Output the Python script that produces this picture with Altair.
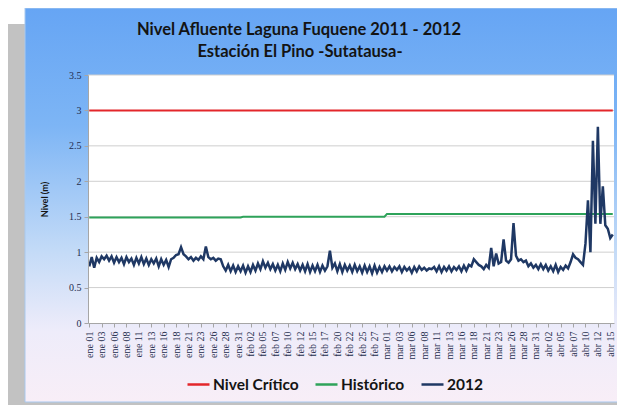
import json
import altair as alt
import pandas as pd

# ---------------- data ----------------
titulo = ["Nivel Afluente Laguna Fuquene 2011 - 2012", "Estación El Pino -Sutatausa-"]
series = ["Nivel Crítico", "Histórico", "2012"]
colores = ["#e3262b", "#2ea35a", "#1f3864"]

dias_mes = [31, 29, 31, 15]          # ene, feb, mar, abr (2 lecturas por día)
nivel_critico = 3.0
historico_mensual = [1.49, 1.50, 1.54, 1.54]

x_labels = ["ene 01", "ene 03", "ene 06", "ene 08", "ene 11", "ene 13", "ene 16", "ene 18",
            "ene 21", "ene 23", "ene 26", "ene 28", "ene 31",
            "feb 02", "feb 05", "feb 07", "feb 10", "feb 12", "feb 15", "feb 17", "feb 20",
            "feb 22", "feb 25", "feb 27",
            "mar 01", "mar 03", "mar 06", "mar 08", "mar 11", "mar 13", "mar 16", "mar 18",
            "mar 21", "mar 23", "mar 26", "mar 28", "mar 31",
            "abr 02", "abr 05", "abr 07", "abr 10", "abr 12", "abr 15"]
y_ticks = [0, 0.5, 1, 1.5, 2, 2.5, 3, 3.5]

ene = [0.80, 0.93, 0.78, 0.92, 0.86, 0.94, 0.90, 0.95, 0.88, 0.94, 0.85, 0.93, 0.86, 0.92, 0.83, 0.93, 0.86, 0.91, 0.82, 0.92,
       0.84, 0.93, 0.83, 0.91, 0.82, 0.90, 0.84, 0.91, 0.80, 0.90, 0.82, 0.89, 0.79, 0.90, 0.92, 0.96, 0.97, 1.07, 0.97, 0.94,
       0.90, 0.93, 0.88, 0.92, 0.89, 0.94, 0.90, 1.08, 0.93, 0.90, 0.92, 0.88, 0.91, 0.90, 0.80, 0.74, 0.82, 0.73, 0.81, 0.72,
       0.80, 0.73]
feb = [0.81, 0.71, 0.80, 0.72, 0.82, 0.74, 0.84, 0.76, 0.87, 0.78, 0.85, 0.76, 0.83, 0.74, 0.82, 0.73, 0.84, 0.75, 0.86, 0.77,
       0.85, 0.76, 0.83, 0.74, 0.82, 0.73, 0.83, 0.72, 0.81, 0.73, 0.82, 0.72, 0.81, 0.74, 0.80, 1.02, 0.78, 0.84, 0.73, 0.83,
       0.72, 0.82, 0.74, 0.81, 0.72, 0.82, 0.73, 0.80, 0.71, 0.81, 0.72, 0.80, 0.70, 0.81, 0.71, 0.79, 0.72, 0.80]
mar = [0.74, 0.80, 0.73, 0.79, 0.75, 0.80, 0.72, 0.79, 0.74, 0.78, 0.71, 0.79, 0.73, 0.80, 0.75, 0.78, 0.74, 0.77, 0.76, 0.79,
       0.73, 0.80, 0.72, 0.79, 0.74, 0.80, 0.73, 0.79, 0.75, 0.80, 0.73, 0.81, 0.74, 0.82,
       0.80, 0.90, 0.86, 0.82, 0.80, 0.76, 0.82, 0.78, 1.06, 0.80, 0.98, 0.84, 0.86, 1.18, 0.88, 0.85, 0.90, 1.41, 0.95, 0.88,
       0.90, 0.86, 0.88, 0.80, 0.84, 0.78, 0.82, 0.76]
abr = [0.83, 0.76, 0.82, 0.74, 0.80, 0.73, 0.82, 0.72, 0.79, 0.75, 0.81, 0.77, 0.86, 0.97, 0.92, 0.90, 0.86, 0.82,
       1.12, 1.73, 1.00, 2.57, 1.40, 2.77, 1.40, 1.93, 1.38, 1.33, 1.20, 1.25]

valores_2012 = ene + feb + mar + abr

# ---------------- table ----------------
rows = []
i = 0
for m, nd in enumerate(dias_mes):
    for _ in range(2 * nd):
        rows.append({"idx": i, "serie": series[0], "valor": nivel_critico})
        rows.append({"idx": i, "serie": series[1], "valor": historico_mensual[m]})
        rows.append({"idx": i, "serie": series[2], "valor": valores_2012[i]})
        i += 1
df = pd.DataFrame(rows)
n = len(valores_2012)

W, H = 526, 248
fondo_df = pd.DataFrame({"k": [0]})
titulo_df = pd.DataFrame({"linea": titulo, "pos": [0, 1]})
grid_df = pd.DataFrame({"valor": y_ticks[1:]})

color_scale = alt.Scale(domain=series, range=colores)
legend = alt.Legend(orient="none", legendX=98, legendY=297, direction="horizontal", title=None,
                    symbolType="stroke", symbolSize=484, symbolStrokeWidth=2.5,
                    labelFont="Lato", labelFontWeight="bold", labelFontSize=15.5, labelColor="#141414",
                    columnPadding=11, labelOffset=2)

label_expr = json.dumps(x_labels, ensure_ascii=False) + "[round(datum.value/5)]"

x_scale = alt.Scale(domain=[-0.5, n - 0.5], nice=False, zero=False)
y_scale = alt.Scale(domain=[0, 3.5], nice=False)

x_enc = alt.X("idx:Q", scale=x_scale,
              axis=alt.Axis(values=list(range(0, n, 5)), labelExpr=label_expr, labelAngle=270,
                            labelFont="Liberation Serif", labelFontSize=10, labelColor="#1f2d4d",
                            labelPadding=4, labelOverlap=False, labelBound=False, labelFlush=False,
                            domainColor="#a6a6a6", tickColor="#a6a6a6", tickSize=4, grid=False,
                            title=None, zindex=1))
y_axis = alt.Axis(values=y_ticks, format="~g", labelFont="Liberation Serif", labelFontSize=10,
                  labelColor="#1f2d4d", labelPadding=3, domainColor="#a6a6a6",
                  tickColor="#a6a6a6", tickSize=4, grid=False,
                  title="Nivel (m)", titleFont="Lato", titleFontSize=9, titleFontWeight="bold",
                  titleColor="#141414", titleAngle=270, titleX=-44, titleY=124,
                  titleAlign="center", titleBaseline="middle", zindex=1)
y_enc = alt.Y("valor:Q", scale=y_scale, axis=y_axis)

sombra = alt.Chart(fondo_df).mark_rect(color="#c2c2c2").encode(
    x=alt.value(-80), x2=alt.value(540), y=alt.value(-51), y2=alt.value(340))
panel = alt.Chart(fondo_df).mark_rect(
    color=alt.LinearGradient(gradient="linear", x1=0, y1=0, x2=0, y2=1,
                             stops=[alt.GradientStop(color="#66a5f4", offset=0),
                                    alt.GradientStop(color="#7db5f5", offset=0.3),
                                    alt.GradientStop(color="#c4dbf7", offset=0.62),
                                    alt.GradientStop(color="#eeecfa", offset=0.82),
                                    alt.GradientStop(color="#f8eef7", offset=1)]),
    stroke="#a9c9ee", strokeWidth=1).encode(
    x=alt.value(-63), x2=alt.value(545), y=alt.value(-67), y2=alt.value(327))
area = alt.Chart(fondo_df).mark_rect(color="white").encode(
    x=alt.value(0), x2=alt.value(W), y=alt.value(0), y2=alt.value(H))

rejilla = alt.Chart(grid_df).mark_rule(color="#cfcfcf", strokeWidth=1).encode(
    y=y_enc, x=alt.value(0), x2=alt.value(W))

titulo_1 = alt.Chart(titulo_df).transform_filter(alt.datum.pos == 0).mark_text(
    font="Lato", fontSize=16.5, fontWeight="bold", color="#141414", align="center", baseline="alphabetic"
).encode(text="linea:N", x=alt.value(211), y=alt.value(-40))
titulo_2 = alt.Chart(titulo_df).transform_filter(alt.datum.pos == 1).mark_text(
    font="Lato", fontSize=16.5, fontWeight="bold", color="#141414", align="center", baseline="alphabetic"
).encode(text="linea:N", x=alt.value(212), y=alt.value(-18))

base = alt.Chart(df)
ref_lines = base.transform_filter(alt.datum.serie != "2012").mark_line(strokeWidth=2).encode(
    x=x_enc, y=y_enc, color=alt.Color("serie:N", scale=color_scale, legend=legend),
    detail="serie:N")
linea_2012 = base.transform_filter(alt.datum.serie == "2012").mark_line(strokeWidth=2.5).encode(
    x=x_enc, y=y_enc, color=alt.Color("serie:N", scale=color_scale, legend=legend))

chart = alt.layer(sombra, panel, area, rejilla, titulo_1, titulo_2, ref_lines, linea_2012).properties(
    width=W, height=H,
    padding={"left": 80, "top": 67, "right": 3, "bottom": 82},
    autosize=alt.AutoSizeParams(type="none"),
).configure_view(stroke=None).configure(background="white")

chart.save("out.html", embed_options={"renderer": "svg", "actions": False})
